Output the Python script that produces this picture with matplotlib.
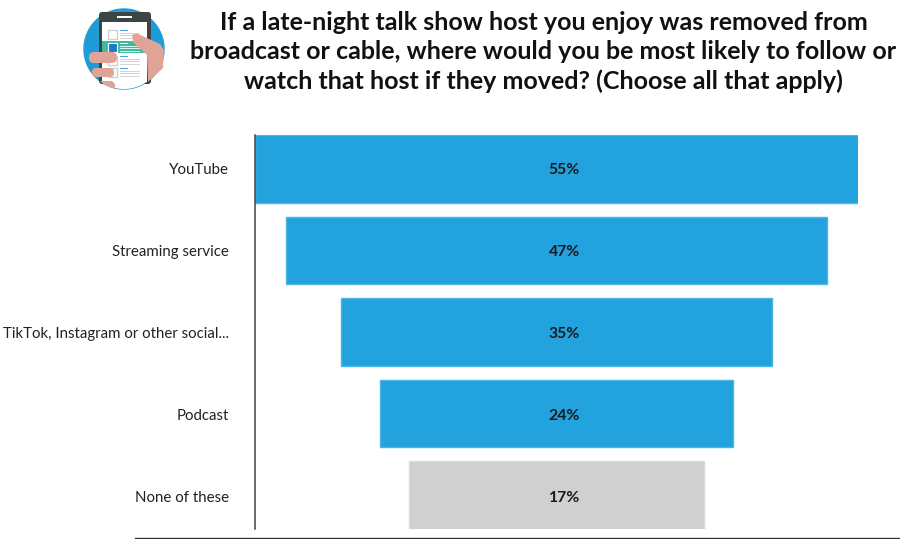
import matplotlib
matplotlib.use("Agg")
import matplotlib.pyplot as plt
from matplotlib.patches import Circle, FancyBboxPatch, Rectangle, Polygon
from matplotlib.transforms import ScaledTranslation

plt.rcParams['font.family'] = ['Lato', 'DejaVu Sans']

categories = ["YouTube", "Streaming service", "TikTok, Instagram or other social...", "Podcast", "None of these"]
value_labels = ["55%", "47%", "35%", "24%", "17%"]
# funnel widths as drawn in the picture (not proportional to the labels)
widths = [55, 49.3, 39.3, 32.2, 26.9]
colors = ["#22a3de", "#22a3de", "#22a3de", "#22a3de", "#d0d0d0"]
edges = ["#4db5e6", "#4db5e6", "#4db5e6", "#4db5e6", "#dadada"]

title = ("If a late-night talk show host you enjoy was removed from\n"
         "broadcast or cable, where would you be most likely to follow or\n"
         "watch that host if they moved? (Choose all that apply)")

W, H = 900, 539
fig = plt.figure(figsize=(9, 5.39), dpi=100)

# main funnel
ax = fig.add_axes([255/W, 1-529/H, 603/W, 394/H])
for i in range(len(categories)):
    ax.barh(i, widths[i], left=-widths[i]/2, height=0.833, color=colors[i], edgecolor=edges[i], linewidth=1)
    # labels sit a little right of the bar centre in the original
    ax.annotate(value_labels[i], (0, i), xytext=(5.6, -0.8 - 0.35*i), textcoords="offset points",
                ha="center", va="center", fontsize=11.3, fontweight="bold", color="#1a1a1a")
ax.set_xlim(-27.5, 27.5)
ax.set_ylim(4.417, -0.417)
ax.set_xticks([])
ax.set_yticks(range(len(categories)))
ax.set_yticklabels(categories, fontsize=10.8, color="#222222")
ax.tick_params(axis="y", length=0, pad=18.5)
# lower labels drift down slightly in the original
for i, lab in enumerate(ax.get_yticklabels()):
    lab.set_transform(lab.get_transform() + ScaledTranslation(0, -0.35*i/72, fig.dpi_scale_trans))
for s in ["top", "right", "bottom"]:
    ax.spines[s].set_visible(False)
ax.spines["left"].set_color("#444444")
ax.spines["left"].set_linewidth(1.1)

fig.text(543.5/W, 1-52/H, title, ha="center", va="center", fontsize=18, fontweight="bold",
         color="#111111", linespacing=1.3)

# bottom rule
fig.add_artist(plt.Line2D([135/W, 1], [1-538/H, 1-538/H], color="#333333", linewidth=1))

# survey icon, in pixel coordinates
skin = "#dfa397"
ic = fig.add_axes([0, 0, 1, 1], facecolor="none")
ic.set_xlim(0, W)
ic.set_ylim(H, 0)
ic.axis("off")
disc = Circle((124, 49), 40, color="#1f9bd7")
ic.add_patch(disc)
ic.add_patch(FancyBboxPatch((99, 12), 52, 72, boxstyle="round,pad=0,rounding_size=3", fc="#3c4543", ec="none"))
screen = Rectangle((102, 22), 45, 70, fc="#ffffff", ec="none")
ic.add_patch(screen)
screen.set_clip_path(disc)
ic.add_patch(Rectangle((117, 16), 15, 2.2, fc="#ffffff", ec="none"))
ic.add_patch(Rectangle((102, 41), 43, 12, fc="#3dbb9f", ec="none"))
ic.add_patch(Rectangle((107.5, 43), 9, 9, fc="#1f78c1", ec="white", linewidth=0.8))
for y0 in [30, 43, 56, 68]:
    if y0 != 43:
        ic.add_patch(Rectangle((107.5, y0), 9, 9, fc="white", ec="#cfd3cf", linewidth=1))
    ic.add_patch(Rectangle((120, y0), 8, 1.3, fc="#4aa3dc" if y0 != 43 else "white", ec="none"))
    for k in range(3):
        ic.add_patch(Rectangle((120, y0+2.5+k*2.6), 20, 1.1, fc="#d4d6cf" if y0 != 43 else "#d9f2ea", ec="none"))
ic.add_patch(Polygon([(132, 35), (137, 33.5), (160, 44), (164, 50), (163, 68), (150, 80), (148, 82), (147, 55), (133, 42)],
                     fc=skin, ec="none"))
ic.add_patch(FancyBboxPatch((89, 52), 28, 11, boxstyle="round,pad=0,rounding_size=5", fc=skin, ec="none"))
ic.add_patch(FancyBboxPatch((92, 68), 22, 9, boxstyle="round,pad=0,rounding_size=4", fc=skin, ec="none"))
ic.add_patch(Polygon([(100, 81), (112, 81), (115, 84), (115, 89), (105, 85)], fc=skin, ec="none"))

fig.savefig("out.png", dpi=100)
